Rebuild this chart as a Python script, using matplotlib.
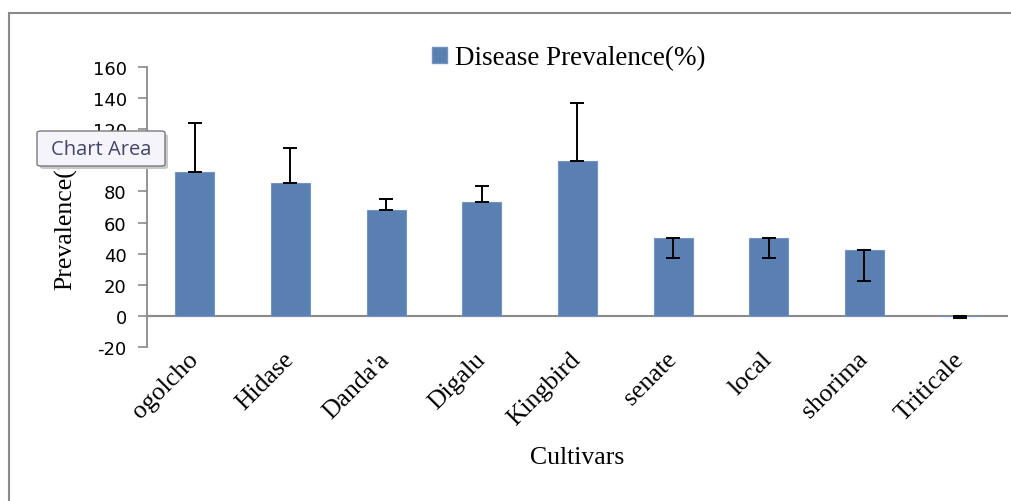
import numpy as np
import matplotlib
matplotlib.use("Agg")
import matplotlib.pyplot as plt
from matplotlib.patches import Patch, Rectangle, FancyBboxPatch

plt.rcParams["axes.unicode_minus"] = False

# data
cultivars = ["ogolcho", "Hidase", "Danda'a", "Digalu", "Kingbird",
             "senate", "local", "shorima", "Triticale"]
prevalence = [92.5, 85.3, 68.1, 73.1, 99.8, 50.0, 50.0, 42.6, 0.0]
err_minus = [0, 0, 0, 0, 0, 12.7, 12.7, 20.0, 1.3]
err_plus = [31.5, 22.7, 7.1, 10.4, 37.2, 0, 0, 0, 0]
yticks = [-20, 0, 20, 40, 60, 80, 100, 120, 140, 160]

bar_color = "#5a7fb1"
axis_gray = "#8a8a8a"
serif = ["Liberation Serif", "DejaVu Serif"]

fig = plt.figure(figsize=(10.12, 5.02), dpi=100)
ax = fig.add_axes([147/1012, 1-348/502, (1008-147)/1012, (348-68)/502])

x = np.arange(len(cultivars))
ax.bar(x, prevalence, width=0.41, color=bar_color, edgecolor="#7393c0",
       linewidth=0.8, zorder=2)
ax.errorbar(x, prevalence, yerr=[err_minus, err_plus], fmt="none",
            ecolor="black", elinewidth=1.4, capsize=4.7, capthick=1.4, zorder=3)

ax.set_xlim(-0.5, len(cultivars) - 0.5)
ax.set_ylim(-20, 160)
ax.set_yticks(yticks)
ax.axhline(0, color=axis_gray, lw=1.5, zorder=1)

for s in ["top", "right", "bottom"]:
    ax.spines[s].set_visible(False)
ax.spines["left"].set_color(axis_gray)
ax.spines["left"].set_linewidth(1.3)

ax.tick_params(axis="y", direction="out", length=6.5, width=1.2, color=axis_gray,
               pad=8, labelsize=13)
ax.tick_params(axis="x", length=0, pad=6)
ax.set_xticks(x)
ax.set_xticklabels(cultivars, rotation=45, ha="right", va="center",
                   rotation_mode="anchor", fontsize=18.5, family=serif)

ax.set_xlabel("Cultivars", fontsize=18.5, family=serif)
ax.xaxis.label.set_va("center")
ax.xaxis.set_label_coords(0.5, -0.393)
ax.set_ylabel("Prevalence(%)", fontsize=18.5, family=serif)
ax.yaxis.set_label_coords(-0.081, 0.48)

handle = Patch(facecolor=bar_color, edgecolor="#7393c0")
fig.legend([handle], ["Disease Prevalence(%)"], loc="center",
           bbox_to_anchor=(0.562, 0.883), frameon=False, handlelength=0.55,
           handleheight=0.55, handletextpad=0.3, prop={"family": serif, "size": 19.5})

# chart area border
fig.patches.append(Rectangle((9/1012, -0.1), 1.2, 1.1 - 14/502,
                             transform=fig.transFigure, fill=False,
                             edgecolor=axis_gray, lw=1.5, zorder=0))

# "Chart Area" tooltip
fig.patches.append(FancyBboxPatch((40/1012, 1-170/502), 128/1012, 35/502,
                                  boxstyle="round,pad=0,rounding_size=0.004",
                                  transform=fig.transFigure, facecolor="#c8c8c8",
                                  edgecolor="none", zorder=4))
fig.patches.append(FancyBboxPatch((37/1012, 1-167/502), 128/1012, 35/502,
                                  boxstyle="round,pad=0,rounding_size=0.004",
                                  transform=fig.transFigure, facecolor="#f4f4fa",
                                  edgecolor="#7a7a7a", lw=1.0, zorder=5))
fig.text(101/1012, 1-150/502, "Chart Area", ha="center", va="center",
         fontsize=14.5, color="#44466a", family=["Open Sans", "DejaVu Sans"], zorder=6)

fig.savefig("out.png", dpi=100)
